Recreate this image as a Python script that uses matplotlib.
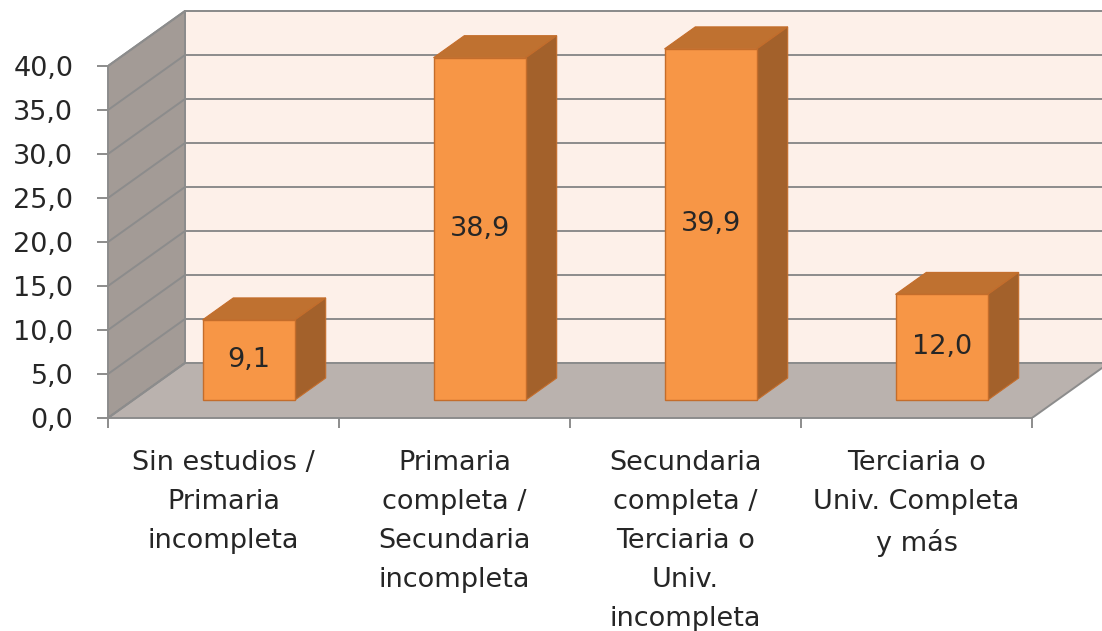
import numpy as np
import matplotlib
matplotlib.use("Agg")
import matplotlib.pyplot as plt
from matplotlib.patches import Polygon

categorias = ["Sin estudios /\nPrimaria\nincompleta",
              "Primaria\ncompleta /\nSecundaria\nincompleta",
              "Secundaria\ncompleta /\nTerciaria o\nUniv.\nincompleta",
              "Terciaria o\nUniv. Completa\ny más"]
valores = [9.1, 38.9, 39.9, 12.0]
yticks = [0, 5, 10, 15, 20, 25, 30, 35, 40]

# colores
c_frente = "#F79646"
c_borde = "#C46D2B"
c_techo = "#BF7130"
c_lado = "#A3612B"
c_pared = "#FDF0E9"
c_izq = "#A39B96"
c_piso = "#BAB2AE"
c_grid = "#8C8C8C"
c_texto = "#262626"

fs = 19.5
plt.rcParams['font.family'] = ['DejaVu Sans']

# proyeccion oblicua: profundidad completa en unidades de datos
DX = 77 / 231
DY = 55 / 8.8
f0 = 18 / 55      # cara frontal de la barra
f1 = 40 / 55      # cara trasera de la barra
ancho = 0.40
n = len(valores)
ymax = yticks[-1]

fig = plt.figure(figsize=(11.02, 6.31), dpi=100)
ax = fig.add_axes([108 / 1102, (631 - 418) / 631, 994 / 1102, 418 / 631])
ax.set_xlim(0, 994 / 231)
ax.set_ylim(0, 418 / 8.8)
ax.patch.set_visible(False)

# paredes y piso
ax.add_patch(Polygon([(DX, DY), (n + DX, DY), (n + DX, ymax + DY), (DX, ymax + DY)],
                     closed=True, fc=c_pared, ec=c_grid, lw=1.4, zorder=0))
ax.add_patch(Polygon([(0, 0), (DX, DY), (DX, ymax + DY), (0, ymax)],
                     closed=True, fc=c_izq, ec=c_grid, lw=1.4, zorder=0))
ax.add_patch(Polygon([(0, 0), (n, 0), (n + DX, DY), (DX, DY)],
                     closed=True, fc=c_piso, ec=c_grid, lw=1.4, zorder=1))

for v in yticks:
    ax.plot([0, DX, n + DX], [v, v + DY, v + DY], color=c_grid, lw=1.4, zorder=1)

# barras
xc = np.arange(n) + 0.5 + f0 * DX
base = f0 * DY
barras = ax.bar(xc, valores, width=ancho, bottom=base, color=c_frente,
                edgecolor=c_borde, lw=1.0, zorder=4)
ddx = (f1 - f0) * DX
ddy = (f1 - f0) * DY
for x, v in zip(xc, valores):
    xl = x - ancho / 2
    xr = x + ancho / 2
    top = base + v
    ax.add_patch(Polygon([(xl, top), (xr, top), (xr + ddx, top + ddy), (xl + ddx, top + ddy)],
                         closed=True, fc=c_techo, ec=c_borde, lw=0.8, zorder=3))
    ax.add_patch(Polygon([(xr, base), (xr + ddx, base + ddy), (xr + ddx, top + ddy), (xr, top)],
                         closed=True, fc=c_lado, ec=c_borde, lw=0.8, zorder=3))

etiquetas = ax.bar_label(barras, labels=[f"{v:.1f}".replace(".", ",") for v in valores],
                         label_type="center", fontsize=fs, color=c_texto)
for t in etiquetas:
    t.set_zorder(6)

# ejes
for s in ["top", "right"]:
    ax.spines[s].set_visible(False)
ax.spines["left"].set_bounds(0, ymax)
ax.spines["bottom"].set_bounds(0, n)
ax.spines["left"].set_color(c_grid)
ax.spines["bottom"].set_color(c_grid)
ax.spines["left"].set_linewidth(1.4)
ax.spines["bottom"].set_linewidth(1.4)
ax.spines["left"].set_zorder(2)
ax.spines["bottom"].set_zorder(2)

ax.set_yticks(yticks)
ax.set_yticklabels([f"{t:.1f}".replace(".", ",") for t in yticks])
ax.tick_params(axis="y", direction="out", length=8, width=1.4, color=c_grid,
               labelsize=fs, labelcolor=c_texto, pad=17)

ax.set_xticks(np.arange(n + 1))
ax.set_xticklabels([])
ax.set_xticks(np.arange(n) + 0.5, minor=True)
ax.set_xticklabels(categorias, minor=True)
ax.tick_params(axis="x", which="major", direction="out", length=7, width=1.4, color=c_grid)
ax.tick_params(axis="x", which="minor", length=0, labelsize=fs, labelcolor=c_texto, pad=23)
for t in ax.get_xticklabels(minor=True):
    t.set_linespacing(1.65)
    t.set_verticalalignment("top")

fig.savefig("out.png", dpi=100)
